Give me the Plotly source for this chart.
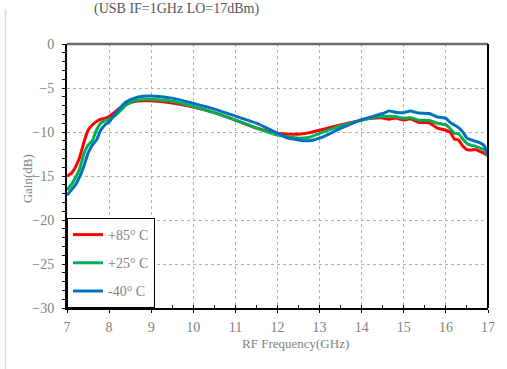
import plotly.graph_objects as go

freq = [7.0, 7.1, 7.2, 7.3, 7.4, 7.5, 7.6, 7.7, 7.8, 7.9, 8.0, 8.2, 8.4, 8.6, 8.8, 9.0,
        9.5, 10.0, 10.5, 11.0, 11.5, 12.0, 12.25, 12.5, 12.75, 13.0, 13.5, 14.0, 14.25,
        14.5, 14.65, 14.8, 15.0, 15.15, 15.35, 15.6, 15.8, 16.0, 16.1, 16.2, 16.3, 16.4,
        16.5, 16.6, 16.7, 16.8, 16.9, 17.0]

gain_p85 = [-15.0, -14.7, -14.0, -12.9, -11.2, -9.8, -9.2, -8.8, -8.55, -8.45, -8.25, -7.5,
            -6.85, -6.55, -6.45, -6.45, -6.7, -7.15, -7.8, -8.65, -9.55, -10.15, -10.25,
            -10.25, -10.1, -9.8, -9.2, -8.65, -8.45, -8.4, -8.55, -8.4, -8.65, -8.5, -8.9,
            -8.95, -9.55, -9.8, -10.0, -10.8, -10.9, -11.6, -12.0, -12.05, -12.0, -12.2,
            -12.4, -12.7]

gain_p25 = [-16.6, -16.0, -15.2, -14.2, -12.5, -11.5, -11.0, -9.8, -9.0, -8.7, -8.55, -7.9,
            -6.95, -6.45, -6.3, -6.3, -6.5, -7.1, -7.8, -8.65, -9.55, -10.35, -10.55,
            -10.7, -10.6, -10.15, -9.3, -8.65, -8.35, -8.25, -8.2, -8.25, -8.45, -8.35,
            -8.65, -8.7, -9.0, -9.2, -9.6, -10.15, -10.2, -10.8, -11.3, -11.5, -11.6,
            -11.8, -12.0, -12.7]

gain_m40 = [-17.2, -16.6, -16.0, -15.1, -13.9, -12.4, -11.5, -10.9, -9.8, -9.2, -8.85, -7.6,
            -6.6, -6.15, -5.95, -5.9, -6.15, -6.75, -7.4, -8.2, -9.0, -10.15, -10.7, -10.9,
            -11.0, -10.7, -9.6, -8.6, -8.25, -7.9, -7.6, -7.75, -7.8, -7.6, -7.85, -7.9,
            -8.3, -8.45, -8.9, -9.2, -9.5, -10.0, -10.7, -10.9, -11.05, -11.2, -11.5, -12.5]

series_names = ["+85° C", "+25° C", "-40° C"]
series_colors = ["#FF0000", "#00B050", "#0070C0"]
series_values = [gain_p85, gain_p25, gain_m40]

x_ticks = [7, 8, 9, 10, 11, 12, 13, 14, 15, 16, 17]
y_ticks = [0, -5, -10, -15, -20, -25, -30]

title_text = "(USB IF=1GHz LO=17dBm)"
x_title = "RF Frequency(GHz)"
y_title = "Gain(dB)"

FONT = "Liberation Serif"
GRAY = "#7f7f7f"

fig = go.Figure()
for i, (name, color, vals) in enumerate(zip(series_names, series_colors, series_values)):
    fig.add_trace(go.Scatter(
        x=freq, y=vals, name=name, mode="lines",
        line=dict(color=color, width=3, shape="spline", smoothing=0.5),
        legendgroup=f"g{i}",
    ))

axis_common = dict(
    showline=True, linecolor="black", linewidth=2,
    showgrid=True, gridcolor="#b0b0b0", griddash="dot", gridwidth=1,
    zeroline=False, ticks="outside", ticklen=3, tickcolor="black", tickwidth=1,
    tickfont=dict(family=FONT, size=14, color=GRAY),
)

fig.update_xaxes(
    range=[7, 17], tickvals=x_ticks, ticklabelstandoff=2, **axis_common,
    minor=dict(dtick=0.5, ticks="inside", ticklen=3, tickcolor="black", showgrid=False),
)
fig.update_yaxes(
    range=[-30, 0], tickvals=y_ticks, ticklabelstandoff=5, **axis_common,
    minor=dict(dtick=1, ticks="outside", ticklen=3, tickcolor="black", showgrid=False),
)

fig.update_layout(
    width=507, height=369,
    margin=dict(l=67, r=15, t=44, b=61),
    plot_bgcolor="white", paper_bgcolor="white",
    font=dict(family=FONT, size=14, color=GRAY),
    showlegend=True,
    legend=dict(
        x=0, y=0, xanchor="left", yanchor="bottom",
        bgcolor="white", bordercolor="black", borderwidth=1,
        font=dict(family=FONT, size=14, color=GRAY),
        tracegroupgap=7, itemwidth=30,
    ),
    shapes=[
        dict(type="line", xref="paper", yref="paper", x0=0, x1=1, y0=1, y1=1,
             line=dict(color="#6e6e6e", width=2.5)),
        dict(type="line", xref="paper", yref="paper", x0=1, x1=1, y0=0, y1=1,
             line=dict(color="black", width=2)),
        dict(type="line", xref="paper", yref="paper", x0=-0.146, x1=-0.146,
             y0=-0.24, y1=1.13, line=dict(color="#d9d9d9", width=1.5)),
    ],
    annotations=[
        dict(text=title_text, xref="paper", yref="paper", x=0.261, y=1.095,
             xanchor="center", yanchor="bottom", showarrow=False,
             font=dict(family=FONT, size=14, color="#555555")),
        dict(text=x_title, xref="paper", yref="paper", x=0.5435, y=-0.1326,
             xanchor="center", yanchor="middle", showarrow=False,
             font=dict(family=FONT, size=13, color=GRAY)),
        dict(text=y_title, xref="paper", yref="paper", x=-0.094, y=0.489,
             xanchor="center", yanchor="middle", showarrow=False, textangle=-90,
             font=dict(family=FONT, size=13, color=GRAY)),
    ],
)

fig.write_html("out.html")
